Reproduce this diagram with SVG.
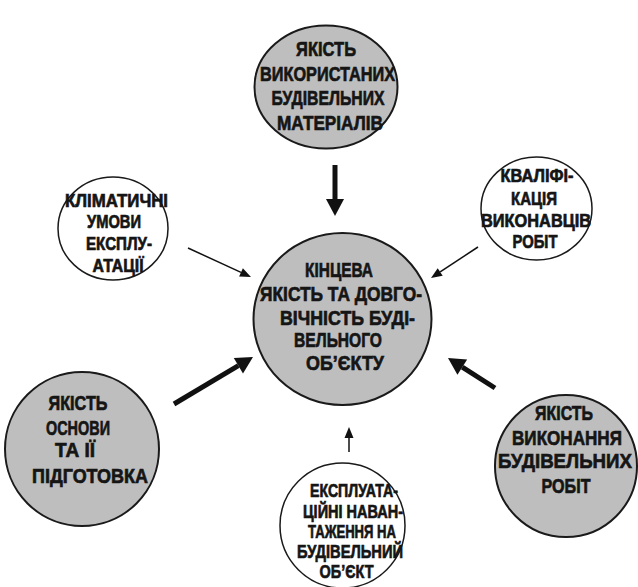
<svg xmlns="http://www.w3.org/2000/svg" width="638" height="587" viewBox="0 0 638 587">
<style>
.g{fill:#bebebe;stroke:#1a1a1a;stroke-width:2}
.w{fill:#ffffff;stroke:#1a1a1a;stroke-width:1.5}
text{font-family:"Liberation Sans",Arial,sans-serif;font-weight:bold;fill:#151515;stroke:#151515;stroke-width:0.7;text-anchor:middle}
.L{font-size:21px}
.S{font-size:19px}
.tk{stroke:#111;stroke-width:5;fill:none}
.tn{stroke:#111;stroke-width:1.5;fill:none}
</style>
<defs>
<marker id="hk" markerUnits="userSpaceOnUse" markerWidth="40" markerHeight="40" refX="0" refY="0" orient="auto" overflow="visible">
<path d="M0,-9 L17,0 L0,9 Z" fill="#111"/>
</marker>
<marker id="hn" markerUnits="userSpaceOnUse" markerWidth="30" markerHeight="30" refX="0" refY="0" orient="auto" overflow="visible">
<path d="M0,-4.5 L11,0 L0,4.5 Z" fill="#111"/>
</marker>
</defs>
<g id="connectors">
<line class="tk" x1="335" y1="165" x2="335" y2="199" marker-end="url(#hk)"/>
<line class="tk" x1="174" y1="404" x2="238.4" y2="365.7" marker-end="url(#hk)"/>
<line class="tk" x1="495" y1="388" x2="462.3" y2="367.1" marker-end="url(#hk)"/>
<line class="tn" x1="188" y1="248" x2="241" y2="272.4" marker-end="url(#hn)"/>
<line class="tn" x1="478" y1="247" x2="440.2" y2="271.9" marker-end="url(#hn)"/>
<line class="tn" x1="349" y1="452" x2="349" y2="438" marker-end="url(#hn)"/>
</g>
<g id="center">
<ellipse class="g" cx="342.5" cy="319" rx="89" ry="86"/>
<text class="L" transform="translate(339,277) scale(0.78,1)" textLength="87.2" lengthAdjust="spacingAndGlyphs">КІНЦЕВА</text>
<text class="L" transform="translate(341,301) scale(0.78,1)" textLength="207.7" lengthAdjust="spacingAndGlyphs">ЯКІСТЬ ТА ДОВГО-</text>
<text class="L" transform="translate(347.5,325) scale(0.78,1)" textLength="173.1" lengthAdjust="spacingAndGlyphs">ВІЧНІСТЬ БУДІ-</text>
<text class="L" transform="translate(338,347) scale(0.78,1)" textLength="112.8" lengthAdjust="spacingAndGlyphs">ВЕЛЬНОГО</text>
<text class="L" transform="translate(345,370) scale(0.78,1)" textLength="100" lengthAdjust="spacingAndGlyphs">ОБ’ЄКТУ</text>
</g>
<g id="top">
<ellipse class="g" cx="326" cy="87" rx="71.5" ry="61.5"/>
<text class="L" transform="translate(326,56) scale(0.78,1)" textLength="76.9" lengthAdjust="spacingAndGlyphs">ЯКІСТЬ</text>
<text class="L" transform="translate(327.5,80.5) scale(0.78,1)" textLength="173.1" lengthAdjust="spacingAndGlyphs">ВИКОРИСТАНИХ</text>
<text class="L" transform="translate(328,105) scale(0.78,1)" textLength="144.9" lengthAdjust="spacingAndGlyphs">БУДІВЕЛЬНИХ</text>
<text class="L" transform="translate(330,129.5) scale(0.78,1)" textLength="135.9" lengthAdjust="spacingAndGlyphs">МАТЕРІАЛІВ</text>
</g>
<g id="left">
<ellipse class="w" cx="113" cy="228.5" rx="55" ry="51.5"/>
<text class="S" transform="translate(116.5,207) scale(0.78,1)" textLength="132.1" lengthAdjust="spacingAndGlyphs">КЛІМАТИЧНІ</text>
<text class="S" transform="translate(114,228) scale(0.78,1)" textLength="69.2" lengthAdjust="spacingAndGlyphs">УМОВИ</text>
<text class="S" transform="translate(119,250) scale(0.78,1)" textLength="84.6" lengthAdjust="spacingAndGlyphs">ЕКСПЛУ-</text>
<text class="S" transform="translate(118,272) scale(0.78,1)" textLength="65.4" lengthAdjust="spacingAndGlyphs">АТАЦІЇ</text>
</g>
<g id="right">
<ellipse class="w" cx="536.5" cy="208.5" rx="55.5" ry="51.5"/>
<text class="S" transform="translate(537,182) scale(0.78,1)" textLength="93.6" lengthAdjust="spacingAndGlyphs">КВАЛІФІ-</text>
<text class="S" transform="translate(534,205) scale(0.78,1)" textLength="59" lengthAdjust="spacingAndGlyphs">КАЦІЯ</text>
<text class="S" transform="translate(536,227) scale(0.78,1)" textLength="141" lengthAdjust="spacingAndGlyphs">ВИКОНАВЦІВ</text>
<text class="S" transform="translate(535,248) scale(0.78,1)" textLength="57.7" lengthAdjust="spacingAndGlyphs">РОБІТ</text>
</g>
<g id="bottom-left">
<ellipse class="g" cx="82" cy="449" rx="77" ry="77"/>
<text class="L" transform="translate(78,410) scale(0.78,1)" textLength="75.6" lengthAdjust="spacingAndGlyphs">ЯКІСТЬ</text>
<text class="L" transform="translate(78,435) scale(0.78,1)" textLength="82.1" lengthAdjust="spacingAndGlyphs">ОСНОВИ</text>
<text class="L" transform="translate(75,457) scale(0.78,1)" textLength="51.3" lengthAdjust="spacingAndGlyphs">ТА ІЇ</text>
<text class="L" transform="translate(90,483) scale(0.78,1)" textLength="148.7" lengthAdjust="spacingAndGlyphs">ПІДГОТОВКА</text>
</g>
<g id="bottom-right">
<ellipse class="g" cx="566" cy="466" rx="71" ry="71"/>
<text class="L" transform="translate(564,420) scale(0.78,1)" textLength="74.4" lengthAdjust="spacingAndGlyphs">ЯКІСТЬ</text>
<text class="L" transform="translate(567,445) scale(0.78,1)" textLength="141" lengthAdjust="spacingAndGlyphs">ВИКОНАННЯ</text>
<text class="L" transform="translate(565,468) scale(0.78,1)" textLength="171.8" lengthAdjust="spacingAndGlyphs">БУДІВЕЛЬНИХ</text>
<text class="L" transform="translate(566,493) scale(0.78,1)" textLength="62.8" lengthAdjust="spacingAndGlyphs">РОБІТ</text>
</g>
<g id="bottom">
<ellipse class="w" cx="342.5" cy="525.5" rx="62.5" ry="62.5"/>
<text class="S" transform="translate(354,497) scale(0.78,1)" textLength="112.8" lengthAdjust="spacingAndGlyphs">ЕКСПЛУАТА-</text>
<text class="S" transform="translate(353,518) scale(0.78,1)" textLength="128.2" lengthAdjust="spacingAndGlyphs">ЦІЙНІ НАВАН-</text>
<text class="S" transform="translate(352,538) scale(0.78,1)" textLength="112.8" lengthAdjust="spacingAndGlyphs">ТАЖЕННЯ НА</text>
<text class="S" transform="translate(350,558) scale(0.78,1)" textLength="135.9" lengthAdjust="spacingAndGlyphs">БУДІВЕЛЬНИЙ</text>
<text class="S" transform="translate(346.5,578) scale(0.78,1)" textLength="69.2" lengthAdjust="spacingAndGlyphs">ОБ’ЄКТ</text>
</g>
</svg>
